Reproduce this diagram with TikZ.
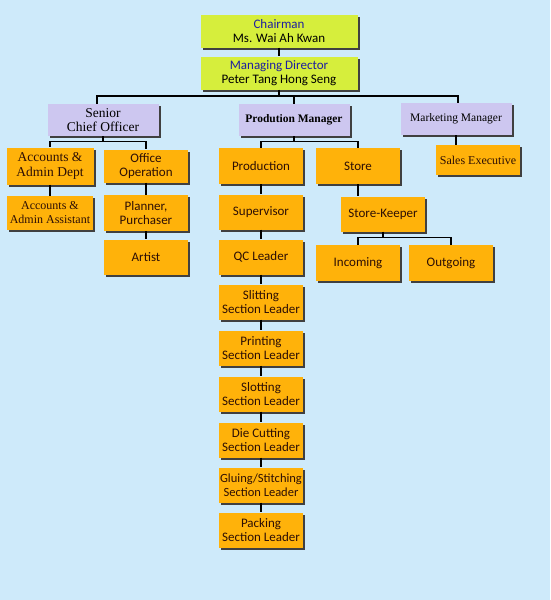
\documentclass[tikz,border=0pt]{standalone}
\usepackage{fontspec}
\setmainfont{Liberation Serif}
\setsansfont{Carlito}
\usetikzlibrary{shadows}
\definecolor{bgblue}{RGB}{206,234,250}
\definecolor{limefill}{RGB}{214,238,60}
\definecolor{lilac}{RGB}{205,199,240}
\definecolor{amber}{RGB}{255,178,10}
\definecolor{titleblue}{RGB}{30,30,160}
\definecolor{boxtext}{RGB}{45,15,5}
\tikzset{
  box/.style={draw=none,align=center,inner sep=0pt,
    drop shadow={shadow xshift=2pt,shadow yshift=-2pt,opacity=1,fill=black!75}},
  limebox/.style={box,fill=limefill,minimum width=157pt,minimum height=33pt,
    font=\sffamily\fontsize{13}{14.5}\selectfont},
  lilacbox/.style={box,fill=lilac,minimum width=111pt,minimum height=32pt,
    font=\rmfamily\fontsize{13.5}{14.5}\selectfont},
  orangebox/.style={box,fill=amber,minimum width=84pt,minimum height=35pt,
    text=boxtext,font=\sffamily\fontsize{13}{13.5}\selectfont},
  serifbox/.style={orangebox,font=\rmfamily\fontsize{12}{14}\selectfont},
  link/.style={draw=black,line width=1.2pt}
}
\begin{document}
\begin{tikzpicture}[x=1pt,y=-1pt]
  % Background
  \fill[bgblue] (0,0) rectangle (550,600);
  \useasboundingbox (0,0) rectangle (550,600);
  % Top
  \node[limebox] (chair) at (279,31) {\textcolor{titleblue}{Chairman}\\Ms. Wai Ah Kwan};
  \node[limebox] (md) at (279,73) {\textcolor{titleblue}{Managing Director}\\Peter Tang Hong Seng};
  % Managers
  \node[lilacbox] (sco) at (103,120) {Senior\\Chief Officer};
  \node[lilacbox,font=\rmfamily\fontsize{11.5}{13}\selectfont] (pm) at (294,120) {\textbf{Prodution Manager}};
  \node[lilacbox,font=\rmfamily\fontsize{11.5}{13}\selectfont] (mm) at (456,119) {Marketing Manager};
  % Office side
  \node[serifbox,minimum width=87pt,minimum height=37pt,font=\rmfamily\fontsize{13.5}{15}\selectfont] (acct) at (50,166) {Accounts \&\\Admin Dept};
  \node[orangebox,minimum height=33pt] (office) at (146,166) {Office\\Operation};
  \node[serifbox,minimum width=86pt,minimum height=34pt] (asst) at (50,213) {Accounts \&\\Admin Assistant};
  \node[orangebox,minimum height=36pt] (plan) at (146,213) {Planner,\\Purchaser};
  \node[orangebox] (artist) at (146,257) {Artist};
  % Production side
  \node[orangebox,minimum height=36pt] (prod) at (261,166) {Production};
  \node[orangebox,minimum height=36pt] (store) at (358,166) {Store};
  \node[orangebox] (sup) at (261,212) {Supervisor};
  \node[orangebox] (qc) at (261,257) {QC Leader};
  \node[orangebox] (keeper) at (383,214) {Store-Keeper};
  \node[orangebox,minimum height=36pt] (in) at (358,263) {Incoming};
  \node[orangebox,minimum height=36pt] (out) at (451,263) {Outgoing};
  \node[orangebox] (slit) at (261,302) {Slitting\\Section Leader};
  \node[orangebox] (print) at (261,348) {Printing\\Section Leader};
  \node[orangebox] (slot) at (261,394) {Slotting\\Section Leader};
  \node[orangebox] (die) at (261,440) {Die Cutting\\Section Leader};
  \node[orangebox,font=\sffamily\fontsize{12.5}{13.5}\selectfont] (glue) at (261,485) {Gluing/Stitching\\Section Leader};
  \node[orangebox] (pack) at (261,530) {Packing\\Section Leader};
  % Sales
  \node[serifbox,minimum height=30pt,font=\rmfamily\fontsize{12}{13}\selectfont] (sales) at (478,160) {Sales Executive};
  % Links
  \draw[link] (chair) -- (md);
  \coordinate (busl) at (97,96);
  \coordinate (busr) at (458,96);
  \draw[link] (md.south) -- (md.south |- busl);
  \draw[link] (busl |- sco.north) -- (busl) -- (busr) -- (busr |- mm.north);
  \draw[link] (pm.north) -- (pm.north |- busl);
  \draw[link] (sco.south) -- ++(0,5) -| (acct.north);
  \draw[link] (sco.south) ++(0,5) -| (office.north);
  \draw[link] (pm.south) -- ++(0,5) -| (prod.north);
  \draw[link] (pm.south) ++(0,5) -| (store.north);
  \draw[link] (mm) -- (mm |- sales.north);
  \draw[link] (acct) -- (asst);
  \draw[link] (office) -- (plan);
  \draw[link] (plan) -- (artist);
  \draw[link] (store) -- (store |- keeper.north);
  \draw[link] (keeper.south) -- ++(0,6) -| (in.north);
  \draw[link] (keeper.south) ++(0,6) -| (out.north);
  \foreach \a/\b in {prod/sup,sup/qc,qc/slit,slit/print,print/slot,slot/die,die/glue,glue/pack}
    \draw[link] (\a) -- (\b);
\end{tikzpicture}
\end{document}
